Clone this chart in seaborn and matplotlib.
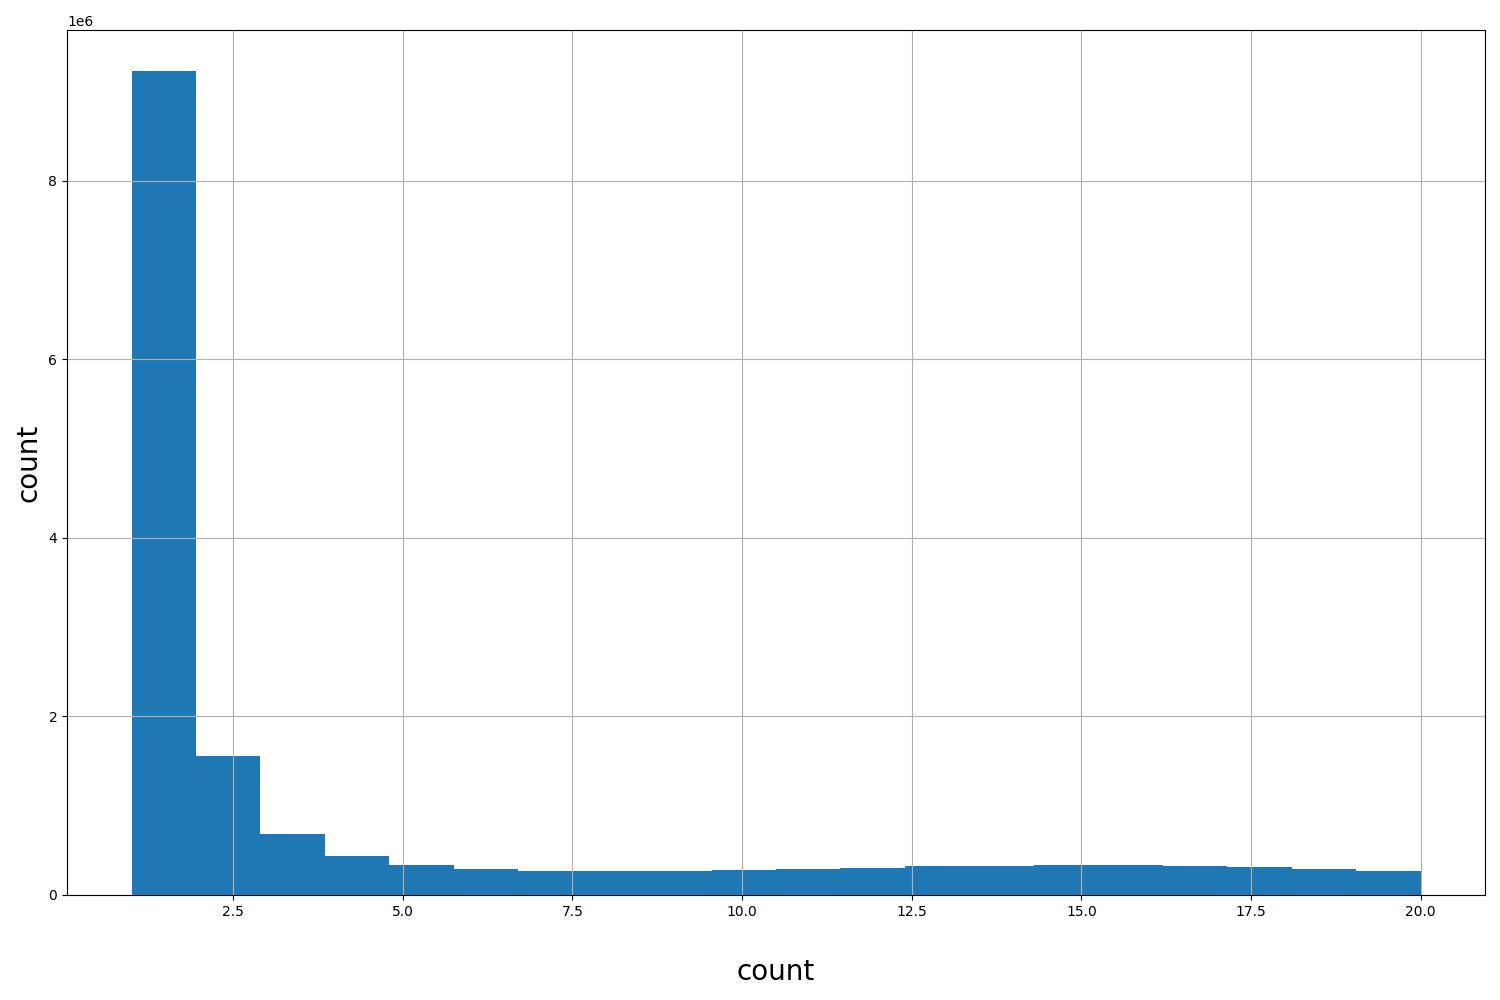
import numpy as np
import pandas as pd
import matplotlib
matplotlib.use("Agg")
import matplotlib.pyplot as plt
import seaborn as sns

# integer values 1..20 and how often each occurs
values = list(range(1, 21))
counts = [9.23e6, 1.557e6, 0.683e6, 0.437e6, 0.336e6,
          0.291e6, 0.269e6, 0.269e6, 0.269e6, 0.280e6,
          0.291e6, 0.303e6, 0.325e6, 0.325e6, 0.336e6,
          0.336e6, 0.325e6, 0.314e6, 0.291e6, 0.269e6]

df = pd.DataFrame({'count': values, 'n': counts})

fig, ax = plt.subplots(figsize=(15, 10), dpi=100)

sns.histplot(data=df, x='count', weights='n', bins=20, ax=ax,
             color='#1f77b4', alpha=1, linewidth=0, edgecolor=None)

ax.grid(True)
ax.set_xlabel('count', fontsize=20, labelpad=28)
ax.set_ylabel('count', fontsize=20)

fig.subplots_adjust(left=0.0447, right=0.99, top=0.97, bottom=0.105)
plt.savefig('out.png')
plt.close()
